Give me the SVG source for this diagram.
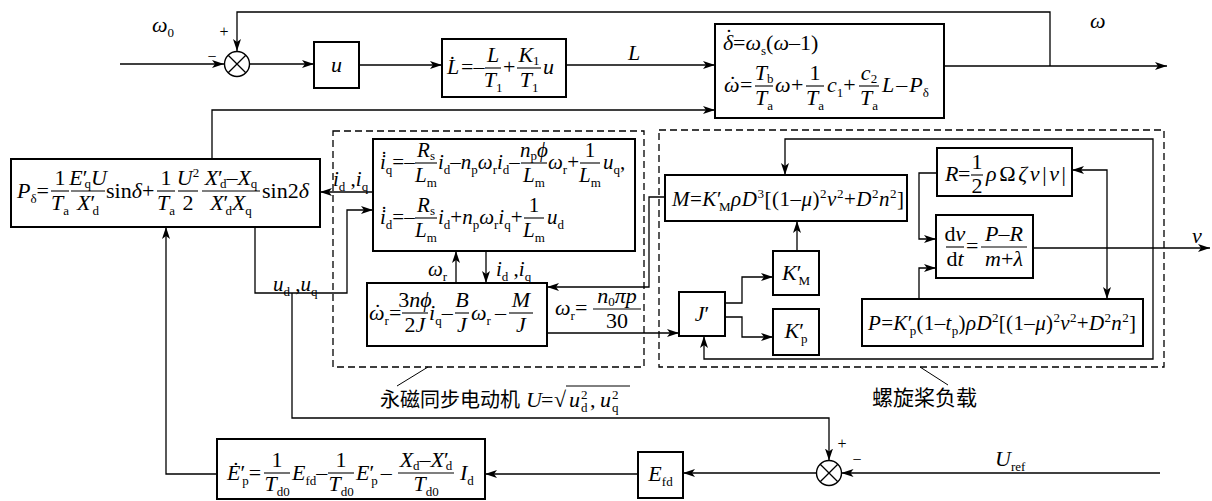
<svg xmlns="http://www.w3.org/2000/svg" width="1212" height="501" viewBox="0 0 1212 501">
<defs>
<style>
text{font-family:"Liberation Serif","Times New Roman",serif;fill:#000}
.t{font-size:22px}
.t1{font-size:21px}
.i{font-style:italic}
.s{font-size:13px;font-style:normal}
.c{text-anchor:middle}
.pm{font-size:16px;text-anchor:middle}
.cn{font-family:"Noto Sans CJK SC","Noto Sans CJK JP",sans-serif}
.bx{fill:#fff;stroke:#000;stroke-width:2}
.dash{fill:none;stroke:#000;stroke-width:1.3;stroke-dasharray:7 4}
.ln path{fill:none;stroke:#000;stroke-width:1.3}
.ar{marker-end:url(#a)}
.fb{stroke:#000;stroke-width:1.1}
.sum circle{fill:#fff;stroke:#000;stroke-width:1.4}
.sum path{stroke:#000;stroke-width:1.3;fill:none}
.ld{stroke:#000;stroke-width:1;fill:none}
</style>
<marker id="a" viewBox="0 0 12 8" refX="12" refY="4" markerWidth="12" markerHeight="8" markerUnits="userSpaceOnUse" orient="auto"><path d="M0,0 L12,4 L0,8 L3,4 z" fill="#000"/></marker>
</defs>
<rect width="1212" height="501" fill="#fff"/>

<g id="dashed-regions">
<rect class="dash" x="333" y="131" width="311" height="236"/>
<rect class="dash" x="659" y="130" width="505" height="237"/>
</g>

<g id="connectors" class="ln">
<path class="ar" d="M120,64 H224"/>
<path class="ar" d="M1050,66 V12 H237 V51"/>
<path class="ar" d="M249.5,64 H314"/>
<path class="ar" d="M359,65 H442"/>
<path class="ar" d="M566,65 H715"/>
<path class="ar" d="M944,66 H1167"/>
<path class="ar" d="M212,159 V110 H715"/>
<path class="ar" d="M373,192 H320"/>
<path class="ar" d="M255,227 V293 H347 V210 H373"/>
<path class="ar" d="M292,293 V418 H829 V460.5"/>
<path class="ar" d="M1160,473 H841.5"/>
<path class="ar" d="M816.5,473 H683"/>
<path class="ar" d="M638,474 H485"/>
<path class="ar" d="M217,474 H166 V227"/>
<path class="ar" d="M456,283 V251"/>
<path class="ar" d="M486,251 V283"/>
<path class="ar" d="M665,197 H649 V287 H547"/>
<path class="ar" d="M547,333 H679"/>
<path class="ar" d="M725,303 H742 V277 H773"/>
<path class="ar" d="M725,317 H742 V337 H773"/>
<path class="ar" d="M797,251 V221"/>
<path class="ar" d="M1153,250 V139 H785 V175"/>
<path class="ar" d="M1153,250 V359 H704 V336"/>
<path class="ar" d="M937,173 H919 V239 H936"/>
<path class="ar" d="M919,299 V268 H936"/>
<path class="ar" d="M1033,248 H1210"/>
<path class="ar" d="M1107,248 V170 H1072"/>
<path class="ar" d="M1107,248 V299"/>
</g>

<g id="sum-top" class="sum"><circle cx="237" cy="64" r="12.5"/><path d="M228.2,55.2 L245.8,72.8 M245.8,55.2 L228.2,72.8"/></g>
<g id="sum-bottom" class="sum"><circle cx="829" cy="473" r="12.5"/><path d="M820.2,464.2 L837.8,481.8 M837.8,464.2 L820.2,481.8"/></g>

<g id="u-block"><rect class="bx" x="314" y="42" width="45" height="46"/><text class="t i c" x="336.5" y="72">u</text></g>

<g id="L-block">
<rect class="bx" x="442" y="39" width="124" height="58"/>
<text class="t i" x="447" y="74">L&#x307;</text>
<text class="t" x="461" y="74">=–</text>
<text class="t i c" x="493" y="62">L</text>
<line class="fb" x1="485" y1="68" x2="501" y2="68"/>
<text class="t c" x="493" y="87"><tspan class="i">T</tspan><tspan class="s" dy="5">1</tspan></text>
<text class="t" x="503" y="74">+</text>
<text class="t c" x="529" y="62"><tspan class="i">K</tspan><tspan class="s" dy="3">1</tspan></text>
<line class="fb" x1="517" y1="68" x2="541" y2="68"/>
<text class="t c" x="529" y="87"><tspan class="i">T</tspan><tspan class="s" dy="5">1</tspan></text>
<text class="t i" x="543" y="74">u</text>
</g>

<g id="delta-omega-block">
<rect class="bx" x="715" y="24" width="229" height="94"/>
<text class="t" x="723" y="50" font-size="23"><tspan class="i">δ</tspan><tspan dx="-8" dy="-6">˙</tspan><tspan dx="0.5" dy="6">=</tspan><tspan class="i">ω</tspan><tspan class="s" dy="5">s</tspan><tspan dy="-5">(</tspan><tspan class="i">ω</tspan>–1)</text>
<text class="t i" x="724" y="92">ω<tspan dx="-10.5" dy="-1" font-style="normal">˙</tspan></text>
<text class="t" x="740" y="92">=</text>
<text class="t c" x="764" y="80"><tspan class="i">T</tspan><tspan class="s" dy="3">b</tspan></text>
<line class="fb" x1="755" y1="86" x2="773" y2="86"/>
<text class="t c" x="764" y="105"><tspan class="i">T</tspan><tspan class="s" dy="5">a</tspan></text>
<text class="t i" x="775" y="92">ω</text>
<text class="t" x="791" y="92">+</text>
<text class="t c" x="815" y="80">1</text>
<line class="fb" x1="806" y1="86" x2="824" y2="86"/>
<text class="t c" x="815" y="105"><tspan class="i">T</tspan><tspan class="s" dy="5">a</tspan></text>
<text class="t" x="827" y="92"><tspan class="i">c</tspan><tspan class="s" dy="5">1</tspan><tspan dy="-5">+</tspan></text>
<text class="t c" x="869" y="80"><tspan class="i">c</tspan><tspan class="s" dy="3">2</tspan></text>
<line class="fb" x1="859" y1="86" x2="879" y2="86"/>
<text class="t c" x="869" y="105"><tspan class="i">T</tspan><tspan class="s" dy="5">a</tspan></text>
<text class="t" x="882" y="92"><tspan class="i">L</tspan><tspan dx="2">–</tspan><tspan class="i" dx="2">P</tspan><tspan class="s" dy="5">δ</tspan></text>
</g>

<g id="P-delta-block">
<rect class="bx" x="11" y="159" width="309" height="68"/>
<text class="t" x="17" y="198"><tspan class="i">P</tspan><tspan class="s" dy="5">δ</tspan><tspan dy="-5">=</tspan></text>
<text class="t c" x="60" y="185">1</text>
<line class="fb" x1="51" y1="191" x2="69" y2="191"/>
<text class="t c" x="60" y="210"><tspan class="i">T</tspan><tspan class="s" dy="5">a</tspan></text>
<text class="t c" x="88" y="185"><tspan class="i">E</tspan>′<tspan class="s" dx="-3" dy="3">q</tspan><tspan class="i" dy="-3">U</tspan></text>
<line class="fb" x1="71" y1="191" x2="105" y2="191"/>
<text class="t c" x="88" y="210"><tspan class="i">X</tspan>′<tspan class="s" dx="-3" dy="5">d</tspan></text>
<text class="t" x="106" y="198">sin<tspan class="i">δ</tspan>+</text>
<text class="t c" x="166" y="185">1</text>
<line class="fb" x1="157" y1="191" x2="175" y2="191"/>
<text class="t c" x="166" y="210"><tspan class="i">T</tspan><tspan class="s" dy="5">a</tspan></text>
<text class="t c" x="188" y="185"><tspan class="i">U</tspan><tspan class="s" dy="-8">2</tspan></text>
<line class="fb" x1="178" y1="191" x2="198" y2="191"/>
<text class="t c" x="188" y="210">2</text>
<text class="t c" x="231" y="185"><tspan class="i">X</tspan>′<tspan class="s" dx="-3" dy="3">d</tspan><tspan dy="-3">–</tspan><tspan class="i">X</tspan><tspan class="s" dy="3">q</tspan></text>
<line class="fb" x1="202" y1="191" x2="260" y2="191"/>
<text class="t c" x="231" y="210"><tspan class="i">X</tspan>′<tspan class="s" dx="-3" dy="5">d</tspan><tspan class="i" dy="-5">X</tspan><tspan class="s" dy="5">q</tspan></text>
<text class="t" x="262" y="198">sin2<tspan class="i">δ</tspan></text>
</g>

<g id="current-block">
<rect class="bx" x="373" y="139" width="262" height="112"/>
<text class="t1" x="380" y="169"><tspan class="i">i&#x307;</tspan><tspan class="s" dy="5">q</tspan><tspan dy="-5">=–</tspan></text>
<text class="t1 c" x="426" y="157"><tspan class="i">R</tspan><tspan class="s" dy="3">s</tspan></text>
<line class="fb" x1="415" y1="163" x2="437" y2="163"/>
<text class="t1 c" x="426" y="182"><tspan class="i">L</tspan><tspan class="s" dy="5">m</tspan></text>
<text class="t1" x="438" y="169"><tspan class="i">i</tspan><tspan class="s" dy="5">d</tspan><tspan dy="-5">–</tspan><tspan class="i">n</tspan><tspan class="s" dy="5">p</tspan><tspan class="i" dy="-5">ω</tspan><tspan class="s" dy="5">r</tspan><tspan class="i" dy="-5">i</tspan><tspan class="s" dy="5">d</tspan><tspan dy="-5">–</tspan></text>
<text class="t1 c" x="534" y="157"><tspan class="i">n</tspan><tspan class="s" dy="3">p</tspan><tspan class="i" dy="-3">ϕ</tspan></text>
<line class="fb" x1="521" y1="163" x2="547" y2="163"/>
<text class="t1 c" x="534" y="182"><tspan class="i">L</tspan><tspan class="s" dy="5">m</tspan></text>
<text class="t1" x="548" y="169"><tspan class="i">ω</tspan><tspan class="s" dy="5">r</tspan><tspan dy="-5">+</tspan></text>
<text class="t1 c" x="590" y="157">1</text>
<line class="fb" x1="580" y1="163" x2="600" y2="163"/>
<text class="t1 c" x="590" y="182"><tspan class="i">L</tspan><tspan class="s" dy="5">m</tspan></text>
<text class="t1" x="603" y="169"><tspan class="i">u</tspan><tspan class="s" dy="5">q</tspan><tspan dy="-5">,</tspan></text>
<text class="t1" x="380" y="224"><tspan class="i">i&#x307;</tspan><tspan class="s" dy="5">d</tspan><tspan dy="-5">=–</tspan></text>
<text class="t1 c" x="426" y="212"><tspan class="i">R</tspan><tspan class="s" dy="3">s</tspan></text>
<line class="fb" x1="415" y1="218" x2="437" y2="218"/>
<text class="t1 c" x="426" y="237"><tspan class="i">L</tspan><tspan class="s" dy="5">m</tspan></text>
<text class="t1" x="438" y="224"><tspan class="i">i</tspan><tspan class="s" dy="5">d</tspan><tspan dy="-5">+</tspan><tspan class="i">n</tspan><tspan class="s" dy="5">p</tspan><tspan class="i" dy="-5">ω</tspan><tspan class="s" dy="5">r</tspan><tspan class="i" dy="-5">i</tspan><tspan class="s" dy="5">q</tspan><tspan dy="-5">+</tspan></text>
<text class="t1 c" x="534" y="212">1</text>
<line class="fb" x1="524" y1="218" x2="544" y2="218"/>
<text class="t1 c" x="534" y="237"><tspan class="i">L</tspan><tspan class="s" dy="5">m</tspan></text>
<text class="t1" x="547" y="224"><tspan class="i">u</tspan><tspan class="s" dy="5">d</tspan></text>
</g>

<g id="omega-r-block">
<rect class="bx" x="367" y="283" width="180" height="63"/>
<text class="t" x="369" y="320"><tspan class="i">ω</tspan><tspan dx="-10.5" dy="-1">˙</tspan><tspan class="s" dx="3.2" dy="6">r</tspan><tspan dy="-5">=</tspan></text>
<text class="t c" x="415" y="307">3<tspan class="i">nϕ</tspan></text>
<line class="fb" x1="402" y1="313" x2="428" y2="313"/>
<text class="t c" x="415" y="332">2<tspan class="i">J</tspan></text>
<text class="t" x="429" y="320"><tspan class="i">i</tspan><tspan class="s" dy="5">q</tspan><tspan dy="-5">–</tspan></text>
<text class="t i c" x="462" y="307">B</text>
<line class="fb" x1="455" y1="313" x2="469" y2="313"/>
<text class="t i c" x="462" y="332">J</text>
<text class="t" x="471" y="320"><tspan class="i">ω</tspan><tspan class="s" dy="5">r</tspan><tspan dy="-5" dx="4">–</tspan></text>
<text class="t i c" x="521" y="307">M</text>
<line class="fb" x1="509" y1="313" x2="533" y2="313"/>
<text class="t i c" x="521" y="332">J</text>
</g>

<g id="Ep-block">
<rect class="bx" x="217" y="439" width="268" height="60"/>
<text class="t" x="227" y="480"><tspan class="i">E&#x307;</tspan>′<tspan class="s" dx="-3" dy="5">p</tspan><tspan dy="-5">=</tspan></text>
<text class="t c" x="277" y="467">1</text>
<line class="fb" x1="264" y1="473" x2="290" y2="473"/>
<text class="t c" x="277" y="491"><tspan class="i">T</tspan><tspan class="s" dy="5">d0</tspan></text>
<text class="t" x="292" y="480"><tspan class="i">E</tspan><tspan class="s" dy="5">fd</tspan><tspan dy="-5">–</tspan></text>
<text class="t c" x="341" y="467">1</text>
<line class="fb" x1="328" y1="473" x2="354" y2="473"/>
<text class="t c" x="341" y="491"><tspan class="i">T</tspan><tspan class="s" dy="5">d0</tspan></text>
<text class="t" x="356" y="480"><tspan class="i">E</tspan>′<tspan class="s" dx="-3" dy="5">p</tspan><tspan dy="-5" dx="3">–</tspan></text>
<text class="t c" x="426" y="467"><tspan class="i">X</tspan><tspan class="s" dy="3">d</tspan><tspan dy="-3">–</tspan><tspan class="i">X</tspan>′<tspan class="s" dx="-3" dy="3">d</tspan></text>
<line class="fb" x1="398" y1="473" x2="454" y2="473"/>
<text class="t c" x="426" y="491"><tspan class="i">T</tspan><tspan class="s" dy="5">d0</tspan></text>
<text class="t" x="460" y="480"><tspan class="i">I</tspan><tspan class="s" dy="5">d</tspan></text>
</g>

<g id="Efd-block">
<rect class="bx" x="638" y="452" width="45" height="46"/>
<text class="t c" x="660.5" y="481"><tspan class="i">E</tspan><tspan class="s" dy="5">fd</tspan></text>
</g>

<g id="torque-block">
<rect class="bx" x="665" y="175" width="242" height="46"/>
<text class="t1" x="672" y="206" textLength="232" lengthAdjust="spacing"><tspan class="i">M</tspan>=<tspan class="i">K</tspan>′<tspan class="s" dx="-3" dy="5">M</tspan><tspan class="i" dy="-5">ρD</tspan><tspan class="s" dy="-8">3</tspan><tspan dy="8">[(1–</tspan><tspan class="i">μ</tspan>)<tspan class="s" dy="-8">2</tspan><tspan class="i" dy="8">v</tspan><tspan class="s" dy="-8">2</tspan><tspan dy="8">+</tspan><tspan class="i">D</tspan><tspan class="s" dy="-8">2</tspan><tspan class="i" dy="8">n</tspan><tspan class="s" dy="-8">2</tspan><tspan dy="8">]</tspan></text>
</g>

<g id="KM-block">
<rect class="bx" x="773" y="251" width="46" height="44"/>
<text class="t c" x="796" y="280"><tspan class="i">K</tspan>′<tspan class="s" dx="-3" dy="5">M</tspan></text>
</g>

<g id="Kp-block">
<rect class="bx" x="773" y="309" width="46" height="46"/>
<text class="t c" x="796" y="338"><tspan class="i">K</tspan>′<tspan class="s" dx="-3" dy="5">p</tspan></text>
</g>

<g id="J-block">
<rect class="bx" x="679" y="292" width="46" height="44"/>
<text class="t c" x="702" y="321"><tspan class="i">J</tspan>′</text>
</g>

<g id="R-block">
<rect class="bx" x="937" y="148" width="135" height="48"/>
<text class="t i" x="945" y="181">R</text>
<text class="t" x="958" y="181">=</text>
<text class="t c" x="977" y="169">1</text>
<line class="fb" x1="971" y1="175" x2="983" y2="175"/>
<text class="t c" x="977" y="193">2</text>
<text class="t" x="986" y="181" textLength="80" lengthAdjust="spacing"><tspan class="i">ρ</tspan>Ω<tspan class="i">ζv</tspan>|<tspan class="i">v</tspan>|</text>
</g>

<g id="dvdt-block">
<rect class="bx" x="936" y="215" width="97" height="63"/>
<text class="t c" x="955" y="241">d<tspan class="i">v</tspan></text>
<line class="fb" x1="946" y1="247" x2="964" y2="247"/>
<text class="t c" x="955" y="266">d<tspan class="i">t</tspan></text>
<text class="t" x="966" y="253">=</text>
<text class="t c" x="1004" y="241"><tspan class="i">P</tspan>–<tspan class="i">R</tspan></text>
<line class="fb" x1="981" y1="247" x2="1027" y2="247"/>
<text class="t c" x="1004" y="266"><tspan class="i">m</tspan>+<tspan class="i">λ</tspan></text>
</g>

<g id="thrust-block">
<rect class="bx" x="862" y="299" width="281" height="47"/>
<text class="t1" x="868" y="330" textLength="268" lengthAdjust="spacing"><tspan class="i">P</tspan>=<tspan class="i">K</tspan>′<tspan class="s" dx="-3" dy="5">p</tspan><tspan dy="-5">(1–</tspan><tspan class="i">t</tspan><tspan class="s" dy="5">p</tspan><tspan dy="-5">)</tspan><tspan class="i">ρD</tspan><tspan class="s" dy="-8">2</tspan><tspan dy="8">[(1–</tspan><tspan class="i">μ</tspan>)<tspan class="s" dy="-8">2</tspan><tspan class="i" dy="8">v</tspan><tspan class="s" dy="-8">2</tspan><tspan dy="8">+</tspan><tspan class="i">D</tspan><tspan class="s" dy="-8">2</tspan><tspan class="i" dy="8">n</tspan><tspan class="s" dy="-8">2</tspan><tspan dy="8">]</tspan></text>
</g>

<g id="labels">
<text class="t" x="152" y="32"><tspan class="i">ω</tspan><tspan class="s" dy="5">0</tspan></text>
<text class="pm" x="224" y="37">+</text>
<text class="pm" x="212" y="62">−</text>
<text class="t i" x="1090" y="28">ω</text>
<text class="t i" x="628" y="60">L</text>
<text class="t1" x="333" y="186"><tspan class="i">i</tspan><tspan class="s" dy="5">d</tspan><tspan dy="-5"> ,</tspan><tspan class="i">i</tspan><tspan class="s" dy="5">q</tspan></text>
<text class="t1" x="273" y="291"><tspan class="i">u</tspan><tspan class="s" dy="5">d</tspan><tspan dy="-5"> ,</tspan><tspan class="i">u</tspan><tspan class="s" dy="5">q</tspan></text>
<text class="t1" x="428" y="276"><tspan class="i">ω</tspan><tspan class="s" dy="5">r</tspan></text>
<text class="t1" x="496" y="276"><tspan class="i">i</tspan><tspan class="s" dy="5">d</tspan><tspan dy="-5"> ,</tspan><tspan class="i">i</tspan><tspan class="s" dy="5">q</tspan></text>
<text class="t" x="555" y="315"><tspan class="i">ω</tspan><tspan class="s" dy="5">r</tspan><tspan dy="-5">=</tspan></text>
<text class="t c" x="617" y="303"><tspan class="i">n</tspan><tspan class="s" dy="3">0</tspan><tspan class="i" dy="-3">πp</tspan></text>
<line class="fb" x1="593" y1="309" x2="641" y2="309"/>
<text class="t c" x="617" y="328">30</text>
<text class="t i" x="1192" y="243">v</text>
<text class="pm" x="842" y="449">+</text>
<text class="pm" x="857" y="465">−</text>
<text class="t" x="995" y="466"><tspan class="i">U</tspan><tspan class="s" dy="5">ref</tspan></text>
</g>

<g id="label-motor">
<path class="ld" d="M397,386 L428,367"/>
<text class="cn" x="380" y="407" font-size="20">永磁同步电动机</text>
<text class="t i" x="526" y="407">U</text>
<text class="t" x="541" y="407">=</text>
<text class="t" x="554" y="407">√</text>
<line x1="566" y1="386" x2="630" y2="386" stroke="#000" stroke-width="1"/>
<text class="t i" x="569" y="407">u</text>
<text class="s" x="581" y="399">2</text>
<text class="s" x="581" y="412">d</text>
<text class="t" x="590" y="407">,</text>
<text class="t i" x="600" y="407">u</text>
<text class="s" x="612" y="399">2</text>
<text class="s" x="612" y="412">q</text>
</g>

<g id="label-propeller">
<path class="ld" d="M920,367 L948,385"/>
<text class="cn" x="872" y="405" font-size="21">螺旋桨负载</text>
</g>
</svg>
